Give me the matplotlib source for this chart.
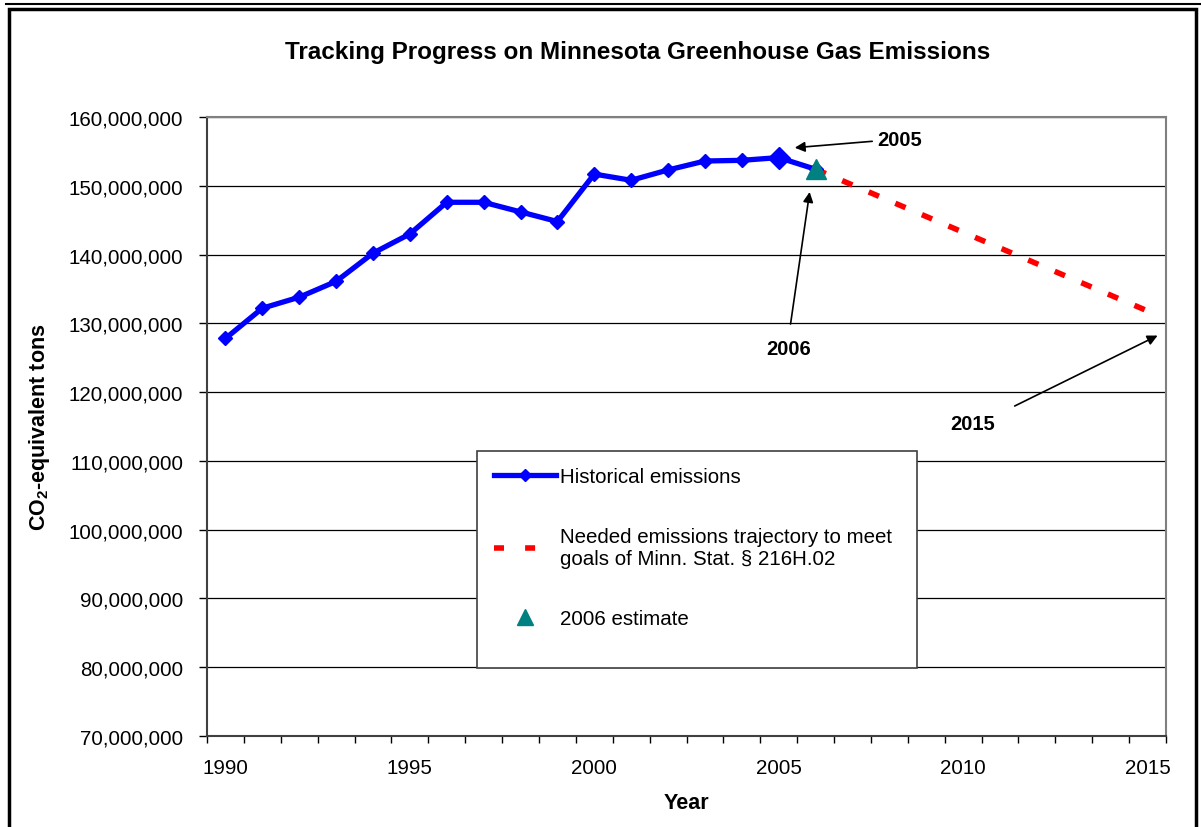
import matplotlib
matplotlib.use("Agg")
import matplotlib.pyplot as plt
from matplotlib.ticker import FuncFormatter, FixedLocator
from matplotlib.patches import Rectangle
from matplotlib.lines import Line2D

plt.rcParams["font.family"] = ["Liberation Sans", "DejaVu Sans"]
plt.rcParams["mathtext.fontset"] = "custom"
plt.rcParams["mathtext.rm"] = "Liberation Sans"
plt.rcParams["mathtext.bf"] = "Liberation Sans:bold"

# historical emissions, CO2-equivalent tons
hist_years = [1990, 1991, 1992, 1993, 1994, 1995, 1996, 1997, 1998, 1999,
              2000, 2001, 2002, 2003, 2004, 2005, 2006]
hist_values = [127.8, 132.2, 133.8, 136.1, 140.2, 143.0, 147.6, 147.6, 146.2, 144.8,
               151.7, 150.8, 152.3, 153.6, 153.7, 154.1, 152.4]
hist_values = [v * 1e6 for v in hist_values]

# needed trajectory (2006 -> 2015)
goal_years = [2006, 2015]
goal_values = [152.4e6, 131.8e6]

est_year = [2006]
est_value = [152.4e6]

year_labels = [1990, 1995, 2000, 2005, 2010, 2015]

W, H = 1201, 828
fig = plt.figure(figsize=(W / 100, H / 100), dpi=100)
ax = fig.add_axes([207 / W, 1 - 737 / H, 959 / W, 619 / H])

ax.plot(goal_years, goal_values, color="#ff0000", lw=4, dashes=(2, 3.2),
        solid_capstyle="butt", zorder=3)
ax.plot(hist_years, hist_values, color="#0000ff", lw=3.8, marker="D", ms=7, zorder=4)
ax.plot(hist_years[15:16], hist_values[15:16], color="#0000ff", marker="D", ms=11,
        ls="none", zorder=5)
ax.plot(est_year, est_value, color="#008080", marker="^", ms=14, ls="none", zorder=6)

ax.set_xlim(1989.5, 2015.5)
ax.set_ylim(70e6, 160e6)
ax.set_yticks([v * 1e6 for v in range(70, 161, 10)])
ax.yaxis.set_major_formatter(FuncFormatter(lambda v, p: f"{int(v):,}"))
ax.xaxis.set_major_locator(FixedLocator(year_labels))
ax.xaxis.set_minor_locator(FixedLocator([y + 0.5 for y in range(1989, 2016)]))
ax.tick_params(axis="x", which="major", length=0, pad=16, labelsize=14.8)
ax.tick_params(axis="x", which="minor", length=5, width=1, direction="out")
ax.tick_params(axis="y", length=6, width=1, direction="out", labelsize=14.8, pad=11)

ax.grid(axis="y", color="black", lw=0.9)
ax.set_axisbelow(True)
for s in ["top", "right"]:
    ax.spines[s].set_color("#808080")
    ax.spines[s].set_linewidth(1.5)
for s in ["left", "bottom"]:
    ax.spines[s].set_color("#404040")
    ax.spines[s].set_linewidth(1.5)

ax.set_xlabel("Year", fontsize=15.5, fontweight="bold", labelpad=11)
ax.set_ylabel(r"CO$_\mathbf{2}$-equivalent tons", fontsize=15.5, fontweight="bold",
              labelpad=12)

fig.text(638 / W, 1 - 52 / H, "Tracking Progress on Minnesota Greenhouse Gas Emissions",
         ha="center", va="center", fontsize=17.5, fontweight="bold")

arrow = dict(arrowstyle="-|>", color="black", lw=1.2, mutation_scale=15)
ax.annotate("", xy=(2005.36, 155.5e6), xytext=(2007.61, 156.5e6), arrowprops=arrow)
ax.text(2007.66, 156.7e6, "2005", ha="left", va="center", fontsize=14.5, fontweight="bold")
ax.annotate("", xy=(2005.85, 149.5e6), xytext=(2005.31, 129.5e6), arrowprops=arrow)
ax.text(2005.28, 126.3e6, "2006", ha="center", va="center", fontsize=14.5, fontweight="bold")
ax.annotate("", xy=(2015.34, 128.4e6), xytext=(2011.33, 117.8e6), arrowprops=arrow)
ax.text(2010.27, 115.4e6, "2015", ha="center", va="center", fontsize=14.5, fontweight="bold")

# legend box (drawn separately so the frame can be taller than its entries)
fig.patches.append(Rectangle((477 / W, 1 - 669 / H), 440 / W, 217 / H,
                             transform=fig.transFigure, facecolor="white",
                             edgecolor="#404040", lw=1.2, zorder=4))
handles = [
    Line2D([], [], color="#0000ff", lw=3.8, marker="D", ms=6),
    Line2D([], [], color="#ff0000", lw=4, dashes=(1.8, 3.8)),
    Line2D([], [], color="#008080", marker="^", ms=11, ls="none"),
]
labels = ["Historical emissions",
          "Needed emissions trajectory to meet\ngoals of Minn. Stat. \u00a7 216H.02",
          "2006 estimate"]
leg = fig.legend(handles, labels, loc="upper left",
                 bbox_to_anchor=(488 / W, 1 - 462 / H),
                 bbox_transform=fig.transFigure,
                 fontsize=14.8, frameon=False, handlelength=3.0,
                 handletextpad=0.2, labelspacing=2.0, borderpad=0.3,
                 borderaxespad=0)
leg.set_zorder(5)
for t in leg.get_texts():
    t.set_linespacing(1.2)

# outer chart border
fig.patches.append(Rectangle((9 / W, -0.05), 1187 / W, 1.05 - 10 / H,
                             transform=fig.transFigure, fill=False,
                             edgecolor="black", lw=2.5))
fig.lines.append(Line2D([6 / W, 1], [1 - 5 / H, 1 - 5 / H],
                        transform=fig.transFigure, color="black", lw=1.5))

fig.savefig("out.png", dpi=100)
